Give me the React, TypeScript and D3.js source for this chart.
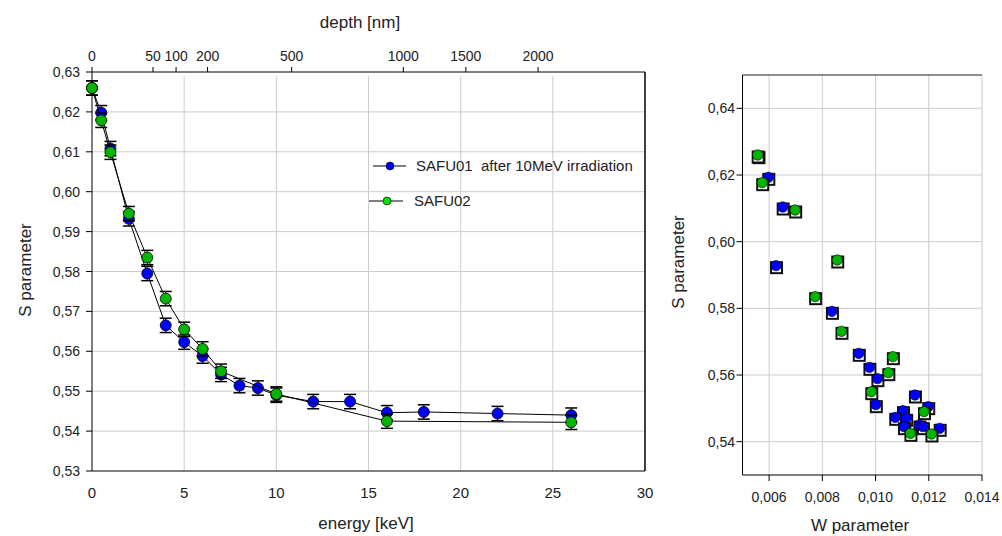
import React from "react";
import * as d3 from "d3";

// ---------- data ----------
const energyBlue = [0, 0.5, 1, 2, 3, 4, 5, 6, 7, 8, 9, 10, 12, 14, 16, 18, 22, 26];
const sBlue = [0.626, 0.6198, 0.6108, 0.5932, 0.5795, 0.5665, 0.5623, 0.5588, 0.5542, 0.5514, 0.5508, 0.549, 0.5474, 0.5474, 0.5446, 0.5448, 0.5444, 0.544];
const energyGreen = [0, 0.5, 1, 2, 3, 4, 5, 6, 7, 10, 16, 26];
const sGreen = [0.626, 0.6179, 0.6099, 0.5945, 0.5835, 0.5732, 0.5655, 0.5606, 0.555, 0.5493, 0.5425, 0.5422];
const sErr = 0.0018;

const energyTicks = [0, 5, 10, 15, 20, 25, 30];
const sTicksLeft = [0.53, 0.54, 0.55, 0.56, 0.57, 0.58, 0.59, 0.6, 0.61, 0.62, 0.63];
const depthLabels = ["0", "50", "100", "200", "500", "1000", "1500", "2000"];
const depthEnergy = [0, 3.31, 4.56, 6.27, 10.83, 16.89, 20.28, 24.2];

const wBlue = [0.0056, 0.00597, 0.00651, 0.00626, 0.00836, 0.00937, 0.00977, 0.01007, 0.01148, 0.01001, 0.01198, 0.01103, 0.01074, 0.01115, 0.01107, 0.01165, 0.01178, 0.01241];
const swBlue = [0.6258, 0.6193, 0.6104, 0.5928, 0.5791, 0.5665, 0.5623, 0.5589, 0.554, 0.5511, 0.5505, 0.5493, 0.5473, 0.547, 0.5445, 0.545, 0.5445, 0.544];
const wGreen = [0.00557, 0.00574, 0.00698, 0.00856, 0.00773, 0.00872, 0.01065, 0.01048, 0.00984, 0.01182, 0.01131, 0.0121];
const swGreen = [0.626, 0.6177, 0.6095, 0.5945, 0.5835, 0.5731, 0.5655, 0.5607, 0.555, 0.549, 0.5425, 0.5423];

const wTicks = [0.006, 0.008, 0.01, 0.012, 0.014];
const sTicksRight = [0.54, 0.56, 0.58, 0.6, 0.62, 0.64];

const legendLabels = ["SAFU01  after 10MeV irradiation", "SAFU02"];

const BLUE = "#0000ff";
const GREEN = "#00b400";
const GRID = "#cccccc";
const FONT = "'Liberation Sans', Arial, sans-serif";
const TXT = "#222";

const fmt2 = (v: number) => v.toFixed(2).replace(".", ",");
const fmt3 = (v: number) => v.toFixed(3).replace(".", ",");

export default function App() {
  const xE = d3.scaleLinear().domain([0, 30]).range([92, 645]);
  const yS = d3.scaleLinear().domain([0.53, 0.63]).range([471, 72]);
  const xW = d3.scaleLinear().domain([0.005, 0.014]).range([742.5, 982]);
  const yW = d3.scaleLinear().domain([0.53, 0.65]).range([475, 75]);

  const line = d3
    .line<[number, number]>()
    .x((d) => xE(d[0]))
    .y((d) => yS(d[1]));

  const blueSeries: [number, number][] = energyBlue.map((e, i) => [e, sBlue[i]]);
  const greenSeries: [number, number][] = energyGreen.map((e, i) => [e, sGreen[i]]);

  const renderLeftSeries = (data: [number, number][], color: string, key: string) => (
    <g key={key}>
      <path d={line(data) || ""} fill="none" stroke="#000" strokeWidth={1} />
      {data.map(([e, s], i) => {
        const cx = xE(e);
        const y1 = yS(s + sErr);
        const y2 = yS(s - sErr);
        return (
          <g key={i}>
            <line x1={cx} x2={cx} y1={y1} y2={y2} stroke="#000" strokeWidth={1} />
            <line x1={cx - 6} x2={cx + 6} y1={y1} y2={y1} stroke="#000" strokeWidth={1.5} />
            <line x1={cx - 6} x2={cx + 6} y1={y2} y2={y2} stroke="#000" strokeWidth={1.5} />
            <circle cx={cx} cy={yS(s)} r={5.5} fill={color} stroke="#000" strokeWidth={0.8} />
          </g>
        );
      })}
    </g>
  );

  const renderRightSeries = (ws: number[], ss: number[], color: string, key: string) => (
    <g key={key}>
      {ws.map((w, i) => {
        const cx = xW(w);
        const cy = yW(ss[i]);
        return (
          <g key={i}>
            <rect x={cx - 5} y={cy - 3.5} width={11} height={11} fill="#fff" stroke="#111" strokeWidth={2} />
            <circle cx={cx} cy={cy} r={5.2} fill={color} stroke="#000" strokeWidth={0.6} />
          </g>
        );
      })}
    </g>
  );

  return (
    <svg
      width={1002}
      height={536}
      style={{ position: "absolute", left: 0, top: 0, background: "#fff", fontFamily: FONT }}
    >
      <rect x={0} y={0} width={1002} height={536} fill="#fff" />

      {/* ===== LEFT CHART ===== */}
      {energyTicks
        .filter((t) => t > 0 && t < 30)
        .map((t) => (
          <line key={"gx" + t} x1={xE(t)} x2={xE(t)} y1={yS(0.63) + 4} y2={yS(0.53)} stroke={GRID} strokeWidth={1} />
        ))}
      {sTicksLeft
        .filter((t) => t > 0.531 && t < 0.629)
        .map((t) => (
          <line key={"gy" + t} x1={xE(0)} x2={xE(30)} y1={yS(t)} y2={yS(t)} stroke={GRID} strokeWidth={1} />
        ))}
      <line x1={xE(0)} x2={xE(30)} y1={yS(0.63)} y2={yS(0.63)} stroke="#000" strokeWidth={1} />
      <line x1={xE(0)} x2={xE(30)} y1={yS(0.53)} y2={yS(0.53)} stroke="#000" strokeWidth={1} />
      <line x1={xE(0)} x2={xE(0)} y1={yS(0.63)} y2={yS(0.53)} stroke="#000" strokeWidth={1} />
      <line x1={xE(30)} x2={xE(30)} y1={yS(0.63)} y2={yS(0.53)} stroke="#000" strokeWidth={1.5} />
      {sTicksLeft.map((t) => (
        <g key={"yt" + t}>
          <line x1={xE(0) - 6} x2={xE(0)} y1={yS(t)} y2={yS(t)} stroke="#000" strokeWidth={1} />
          <text x={80} y={yS(t) + 5} textAnchor="end" fontSize={14} fill={TXT}>
            {fmt2(t)}
          </text>
        </g>
      ))}
      {energyTicks.map((t) => (
        <text key={"xt" + t} x={xE(t)} y={498} textAnchor="middle" fontSize={15} fill={TXT}>
          {t}
        </text>
      ))}
      {depthEnergy.map((e, i) => (
        <g key={"dt" + i}>
          <line x1={xE(e)} x2={xE(e)} y1={yS(0.63) - 5} y2={yS(0.63)} stroke="#000" strokeWidth={1} />
          <text x={xE(e)} y={61} textAnchor="middle" fontSize={14} fill={TXT}>
            {depthLabels[i]}
          </text>
        </g>
      ))}
      <text x={360} y={28} textAnchor="middle" fontSize={17} fill={TXT}>
        depth [nm]
      </text>
      <text x={366} y={529} textAnchor="middle" fontSize={17} fill={TXT}>
        energy [keV]
      </text>
      <text transform="translate(31,270) rotate(-90)" textAnchor="middle" fontSize={17} fill={TXT}>
        S parameter
      </text>

      {renderLeftSeries(blueSeries, BLUE, "blue")}
      {renderLeftSeries(greenSeries, GREEN, "green")}

      {/* legend */}
      <line x1={373} x2={406} y1={166} y2={166} stroke="#000" strokeWidth={1} />
      <circle cx={390} cy={166} r={4} fill={BLUE} stroke="#000" strokeWidth={0.6} />
      <text x={416} y={171} fontSize={15} fill={TXT} style={{ whiteSpace: "pre" }} xmlSpace="preserve">
        {legendLabels[0]}
      </text>
      <line x1={369} x2={403} y1={201} y2={201} stroke="#000" strokeWidth={1} />
      <circle cx={387} cy={201} r={4} fill="#00e000" stroke="#000" strokeWidth={0.6} />
      <text x={414} y={206} fontSize={15} fill={TXT}>
        {legendLabels[1]}
      </text>

      {/* ===== RIGHT CHART ===== */}
      {wTicks.map((t) => (
        <line key={"rgx" + t} x1={xW(t)} x2={xW(t)} y1={yW(0.65)} y2={yW(0.53)} stroke={GRID} strokeWidth={1} />
      ))}
      {sTicksRight.map((t) => (
        <line key={"rgy" + t} x1={xW(0.005)} x2={xW(0.014)} y1={yW(t)} y2={yW(t)} stroke={GRID} strokeWidth={1} />
      ))}
      <line x1={xW(0.005)} x2={xW(0.014)} y1={yW(0.65)} y2={yW(0.65)} stroke="#222" strokeWidth={1} />
      <line x1={xW(0.005)} x2={xW(0.014)} y1={yW(0.53)} y2={yW(0.53)} stroke="#000" strokeWidth={1} />
      <line x1={xW(0.005)} x2={xW(0.005)} y1={yW(0.65)} y2={yW(0.53)} stroke="#000" strokeWidth={1} />
      {sTicksRight.map((t) => (
        <g key={"ryt" + t}>
          <line x1={xW(0.005) - 6} x2={xW(0.005)} y1={yW(t)} y2={yW(t)} stroke="#000" strokeWidth={1} />
          <text x={735} y={yW(t) + 5} textAnchor="end" fontSize={14} fill={TXT}>
            {fmt2(t)}
          </text>
        </g>
      ))}
      {wTicks.map((t) => (
        <g key={"rxt" + t}>
          <line x1={xW(t)} x2={xW(t)} y1={yW(0.53)} y2={yW(0.53) + 6} stroke="#000" strokeWidth={1} />
          <text x={xW(t)} y={502} textAnchor="middle" fontSize={14} fill={TXT}>
            {fmt3(t)}
          </text>
        </g>
      ))}
      <text x={860} y={531} textAnchor="middle" fontSize={17} fill={TXT}>
        W parameter
      </text>
      <text transform="translate(684,262) rotate(-90)" textAnchor="middle" fontSize={17} fill={TXT}>
        S parameter
      </text>
      {renderRightSeries(wBlue, swBlue, BLUE, "rb")}
      {renderRightSeries(wGreen, swGreen, GREEN, "rg")}
    </svg>
  );
}
